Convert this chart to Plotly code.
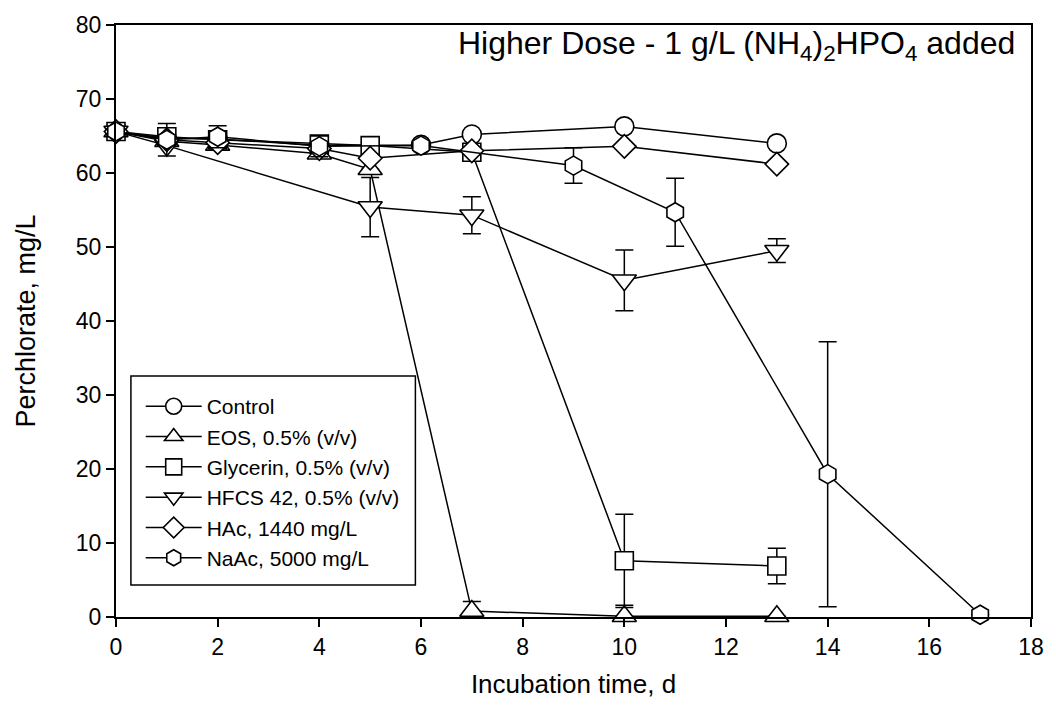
import plotly.graph_objects as go

# Perchlorate concentration over incubation time, higher-dose nutrient series
control_days = [0, 1, 2, 4, 6, 7, 10, 13]
control_vals = [65.6, 64.7, 64.6, 63.7, 63.8, 65.2, 66.3, 64.0]

eos_days = [0, 1, 2, 4, 5, 7, 10, 13]
eos_vals = [65.6, 64.3, 63.8, 62.6, 60.5, 0.8, 0.1, 0.1]
eos_err = [0, 0, 0, 0, 0, 1.3, 1.5, 0]

glycerin_days = [0, 1, 2, 4, 5, 7, 10, 13]
glycerin_vals = [65.6, 64.9, 64.5, 63.9, 63.7, 62.8, 7.6, 6.9]
glycerin_err = [0, 0, 0, 0, 0, 0, 6.3, 2.4]

hfcs_days = [0, 1, 5, 7, 10, 13]
hfcs_vals = [65.6, 63.7, 55.4, 54.3, 45.5, 49.5]
hfcs_err = [0, 0, 4.0, 2.5, 4.1, 1.6]

hac_days = [0, 1, 2, 4, 5, 7, 10, 13]
hac_vals = [65.6, 64.5, 64.1, 63.3, 62.0, 63.0, 63.6, 61.2]

naac_days = [0, 1, 2, 4, 6, 9, 11, 14, 17]
naac_vals = [65.6, 64.5, 64.9, 63.6, 63.7, 61.0, 54.7, 19.3, 0.3]
naac_err = [0, 2.2, 1.5, 1.4, 0, 2.4, 4.6, 17.9, 0]

x_ticks = [0, 2, 4, 6, 8, 10, 12, 14, 16, 18]
y_ticks = [0, 10, 20, 30, 40, 50, 60, 70, 80]

FONT = "Liberation Sans, Arial, sans-serif"

series = [
    ("Control", control_days, control_vals, None, "circle", 19),
    ("EOS, 0.5% (v/v)", eos_days, eos_vals, eos_err, "triangle-up", 21),
    ("Glycerin, 0.5% (v/v)", glycerin_days, glycerin_vals, glycerin_err, "square", 18),
    ("HFCS 42, 0.5% (v/v)", hfcs_days, hfcs_vals, hfcs_err, "triangle-down", 21),
    ("HAc, 1440 mg/L", hac_days, hac_vals, None, "diamond", 18),
    ("NaAc, 5000 mg/L", naac_days, naac_vals, naac_err, "hexagon", 19),
]

fig = go.Figure()
for name, xs, ys, err, sym, size in series:
    err_cfg = None
    if err is not None:
        err_cfg = dict(type="data", array=err, visible=True,
                       color="black", thickness=1.5, width=9)
    fig.add_trace(go.Scatter(
        x=xs, y=ys, name=name, mode="lines+markers",
        line=dict(color="black", width=1.5),
        marker=dict(symbol=sym, size=size, color="white",
                    line=dict(color="black", width=1.6)),
        error_y=err_cfg,
        cliponaxis=False,
    ))

fig.update_layout(
    width=1056, height=719,
    margin=dict(l=116, r=17, t=25, b=102),
    paper_bgcolor="white", plot_bgcolor="white",
    font=dict(family=FONT, size=23, color="black"),
    showlegend=True,
    legend=dict(
        x=0.027, y=0.390, xanchor="left", yanchor="top",
        bgcolor="rgba(0,0,0,0)", borderwidth=0,
        font=dict(family=FONT, size=21, color="black"),
        itemwidth=56, tracegroupgap=0,
    ),
    # frame around the legend entries
    shapes=[dict(
        type="rect", xref="paper", yref="paper", layer="below",
        x0=0.0163, x1=0.3272, y0=0.0541, y1=0.4071,
        line=dict(color="black", width=1.5), fillcolor="white",
    )],
    xaxis=dict(
        range=[0, 18], tickvals=x_ticks, ticks="outside", ticklen=8,
        tickwidth=1.5, tickcolor="black", showline=True, linecolor="black",
        linewidth=2, mirror=True, showgrid=False, zeroline=False,
        tickfont=dict(size=23),
        title=dict(text="Incubation time, d", font=dict(size=26), standoff=16),
    ),
    yaxis=dict(
        range=[0, 80], tickvals=y_ticks, ticks="outside", ticklen=8,
        tickwidth=1.5, tickcolor="black", showline=True, linecolor="black",
        linewidth=2, mirror=True, showgrid=False, zeroline=False,
        tickfont=dict(size=23),
        title=dict(text="Perchlorate, mg/L", font=dict(size=27), standoff=32),
    ),
    annotations=[dict(
        text="Higher Dose - 1 g/L (NH<sub>4</sub>)<sub>2</sub>HPO<sub>4</sub> added",
        xref="paper", yref="paper", x=0.985, y=0.966,
        xanchor="right", yanchor="middle", showarrow=False,
        font=dict(family=FONT, size=32, color="black"),
    )],
)

fig.write_html("out.html")
